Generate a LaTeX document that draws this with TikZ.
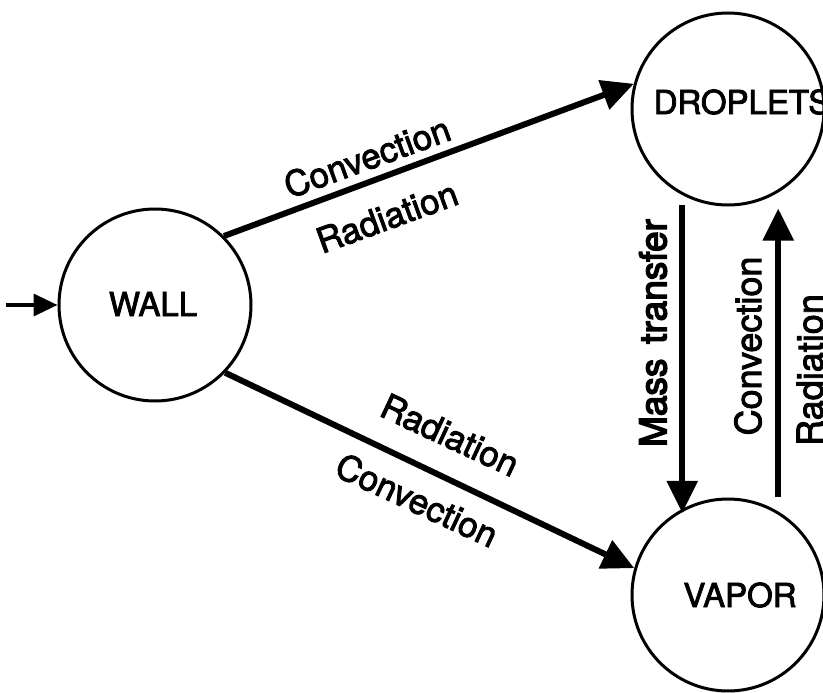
\documentclass[tikz,border=0pt]{standalone}
\usepackage{fontspec}
\setmainfont{TeX Gyre Heros}
\newfontfamily\hv{TeX Gyre Heros}[FakeBold=2.5]
\newfontfamily\hvb{TeX Gyre Heros}[FakeBold=4]
\usetikzlibrary{arrows.meta}
\tikzset{
  ball/.style={circle,draw,line width=3pt,minimum size=192pt,inner sep=0pt},
  ctext/.style={inner sep=0pt,font=\hv\fontsize{33}{33}\selectfont},
  lab/.style={inner sep=0pt,font=\hv\fontsize{35}{35}\selectfont},
  vlab/.style={inner sep=0pt,rotate=90,font=\hv\fontsize{36}{36}\selectfont},
  bigarrow/.style={line width=6pt,-{Triangle[length=32pt,width=30pt]}},
  inarrow/.style={line width=3.5pt,-{Triangle[length=24pt,width=22pt]}}
}
\begin{document}
\begin{tikzpicture}[x=1pt,y=-1pt]
\useasboundingbox (0,0) rectangle (823,693);
\node[ball] (wall) at (155,305) {};
\node[ball] (drop) at (728,109) {};
\node[ball] (vap) at (728,595) {};
\node[ctext] (wallt) at (153,304) {WALL};
\node[ctext] (dropt) at (742,102) {DROPLETS};
\node[ctext] (vapt) at (740,595) {VAPOR};
\coordinate (in) at (6,305);
\draw[inarrow] (in) -- (wall.west);
\draw[bigarrow] (wall.45) -- (drop.165);
\draw[bigarrow] (wall.-44) -- (vap.164);
\draw[bigarrow,shorten <=10pt,shorten >=-4pt] (drop.-118) -- (vap.118);
\draw[bigarrow,shorten <=14pt,shorten >=16pt] (vap.59) -- (drop.-59);
\node[lab,rotate=20] (l1) at (367,157) {Convection};
\node[lab,rotate=20] (l2) at (387,217) {Radiation};
\node[lab,rotate=-25] (l3) at (450,435) {Radiation};
\node[lab,rotate=-25] (l4) at (417,500) {Convection};
\node[vlab,font=\hvb\fontsize{37}{37}\selectfont] (l5) at (653,333) {Mass\hspace{0.4em}transfer};
\node[vlab] (l6) at (748,346) {Convection};
\node[vlab] (l7) at (810,370) {Radiation};
\end{tikzpicture}
\end{document}
